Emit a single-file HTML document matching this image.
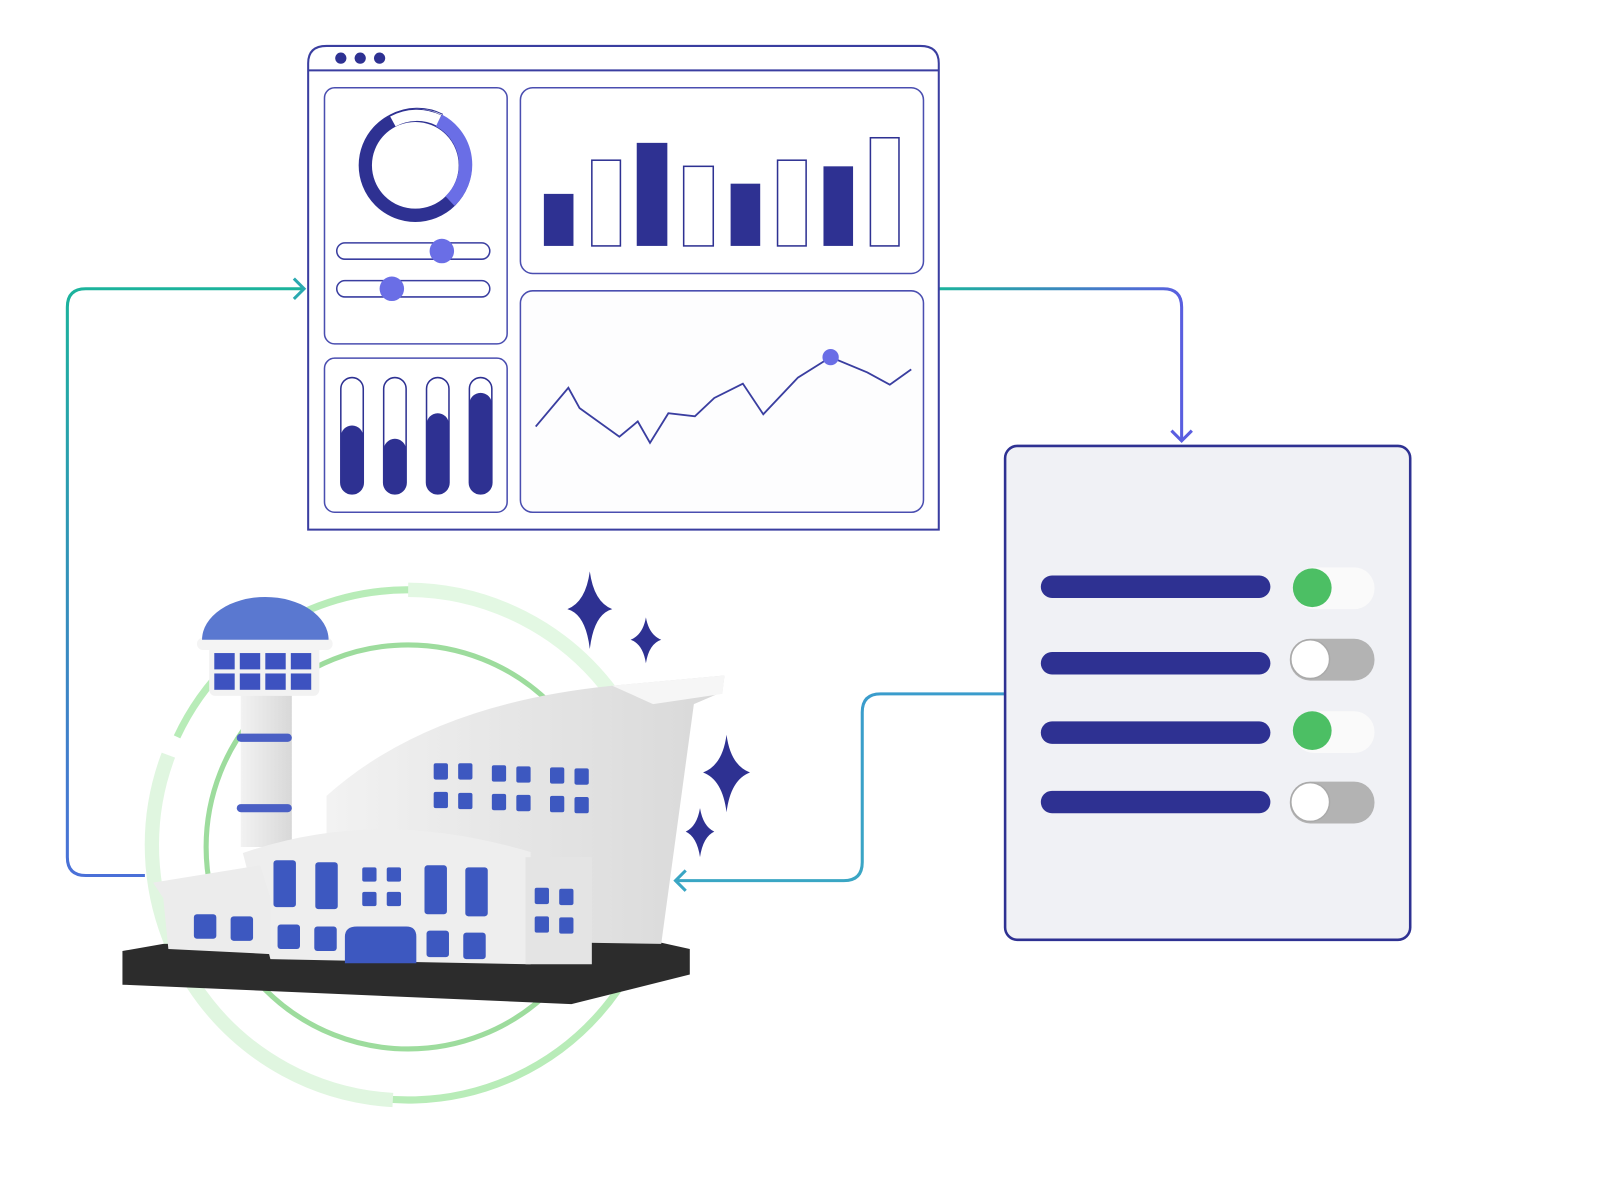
<!DOCTYPE html>
<html><head><meta charset="utf-8"><style>html,body{margin:0;padding:0;background:#fff}svg{display:block}</style></head><body>
<svg width="1600" height="1200" viewBox="0 0 1568 1176" xmlns="http://www.w3.org/2000/svg">
<defs>
<linearGradient id="gl" x1="0" y1="283" x2="0" y2="858" gradientUnits="userSpaceOnUse"><stop offset="0" stop-color="#1bb39c"/><stop offset="1" stop-color="#4a70d8"/></linearGradient>
<linearGradient id="gr" x1="920" y1="0" x2="1160" y2="0" gradientUnits="userSpaceOnUse"><stop offset="0" stop-color="#1bb39c"/><stop offset="1" stop-color="#5a5ee0"/></linearGradient>
<linearGradient id="gb" x1="0" y1="680" x2="0" y2="863" gradientUnits="userSpaceOnUse"><stop offset="0" stop-color="#3a9ccc"/><stop offset="1" stop-color="#3aa6c4"/></linearGradient>
<linearGradient id="wall" x1="0" y1="0" x2="1" y2="0"><stop offset="0" stop-color="#f2f2f2"/><stop offset="1" stop-color="#d8d8d8"/></linearGradient>
</defs>
<path d="M142 858 H84 Q66 858 66 840 V301 Q66 283 84 283 H298" fill="none" stroke="url(#gl)" stroke-width="3"/>
<path d="M288 273 L298 283 L288 293" fill="none" stroke="#2aa9b0" stroke-width="3"/>
<path d="M920 283 H1140 Q1158 283 1158 301 V432" fill="none" stroke="url(#gr)" stroke-width="3"/>
<path d="M1148 422 L1158 432 L1168 422" fill="none" stroke="#5a5ee0" stroke-width="3"/>
<path d="M985 680 H863 Q845 680 845 698 V845 Q845 863 827 863 H662" fill="none" stroke="url(#gb)" stroke-width="3"/>
<path d="M672 853 L662 863 L672 873" fill="none" stroke="#3aa6c4" stroke-width="3"/>
<path d="M302 519 V62 Q302 45 320 45 H902 Q920 45 920 62 V519 Z" fill="#fff" stroke="#3a3ea0" stroke-width="2"/>
<line x1="302" y1="69" x2="920" y2="69" stroke="#3a3ea0" stroke-width="2"/>
<circle cx="334" cy="57" r="5.5" fill="#2e3192"/><circle cx="353" cy="57" r="5.5" fill="#2e3192"/><circle cx="372" cy="57" r="5.5" fill="#2e3192"/>
<rect x="318" y="86" width="179" height="251" rx="10" fill="#fff" stroke="#4a4eb0" stroke-width="1.5"/>
<circle cx="407" cy="162" r="49" fill="none" stroke="#2e3192" stroke-width="13"/>
<path d="M430 118 A49 49 0 0 1 441 197" fill="none" stroke="#6a6ee6" stroke-width="13"/>
<path d="M385 119 A49 49 0 0 1 430 118" fill="none" stroke="#fff" stroke-width="11"/>
<path d="M382 113 A56 56 0 0 1 434 112" fill="none" stroke="#2e3192" stroke-width="1"/>
<rect x="330" y="238" width="150" height="16" rx="8" fill="#fff" stroke="#3a3ea0" stroke-width="1.5"/>
<circle cx="433" cy="246" r="12" fill="#6a6ee6"/>
<rect x="330" y="275" width="150" height="16" rx="8" fill="#fff" stroke="#3a3ea0" stroke-width="1.5"/>
<circle cx="384" cy="283" r="12" fill="#6a6ee6"/>
<rect x="318" y="351" width="179" height="151" rx="10" fill="#fff" stroke="#4a4eb0" stroke-width="1.5"/>
<g stroke="#2e3192" stroke-width="1.5">
<rect x="334" y="370" width="22" height="114" rx="11" fill="#fff"/><rect x="376" y="370" width="22" height="114" rx="11" fill="#fff"/>
<rect x="418" y="370" width="22" height="114" rx="11" fill="#fff"/><rect x="460" y="370" width="22" height="114" rx="11" fill="#fff"/>
</g>
<g fill="#2e3192">
<rect x="334" y="417" width="22" height="67" rx="11"/><rect x="376" y="430" width="22" height="54" rx="11"/>
<rect x="418" y="405" width="22" height="79" rx="11"/><rect x="460" y="385" width="22" height="99" rx="11"/>
</g>
<rect x="510" y="86" width="395" height="182" rx="12" fill="#fff" stroke="#4a4eb0" stroke-width="1.5"/>
<g fill="#2e3192">
<rect x="533" y="190" width="29" height="51"/><rect x="624" y="140" width="30" height="101"/>
<rect x="716" y="180" width="29" height="61"/><rect x="807" y="163" width="29" height="78"/>
</g>
<g fill="#fff" stroke="#2e3192" stroke-width="1.5">
<rect x="580" y="157" width="28" height="84"/><rect x="670" y="163" width="29" height="78"/>
<rect x="762" y="157" width="28" height="84"/><rect x="853" y="135" width="28" height="106"/>
</g>
<rect x="510" y="285" width="395" height="217" rx="12" fill="#fdfdfe" stroke="#4a4eb0" stroke-width="1.5"/>
<polyline points="525,418 557,380 568,400 607,428 625,413 637,434 655,405 681,408 700,390 728,376 748,406 782,370 814,350 850,365 872,377 893,362" fill="none" stroke="#3a3ea0" stroke-width="1.8"/>
<circle cx="814" cy="350" r="8" fill="#6a6ee6"/>
<rect x="985" y="437" width="397" height="484" rx="12" fill="#f0f1f5" stroke="#2e3192" stroke-width="2.5"/>
<g fill="#2e3192">
<rect x="1020" y="564" width="225" height="22" rx="11"/><rect x="1020" y="639" width="225" height="22" rx="11"/>
<rect x="1020" y="707" width="225" height="22" rx="11"/><rect x="1020" y="775" width="225" height="22" rx="11"/>
</g>
<rect x="1268" y="556" width="79" height="41" rx="20" fill="#fafafa"/><circle cx="1286" cy="576" r="19" fill="#4cbf64"/>
<rect x="1264" y="626" width="83" height="41" rx="20" fill="#b3b3b3"/><circle cx="1284" cy="646" r="19" fill="#fff" stroke="#aaa" stroke-width="1.5"/>
<rect x="1268" y="697" width="79" height="41" rx="20" fill="#fafafa"/><circle cx="1286" cy="716" r="19" fill="#4cbf64"/>
<rect x="1264" y="766" width="83" height="41" rx="20" fill="#b3b3b3"/><circle cx="1284" cy="786" r="19" fill="#fff" stroke="#aaa" stroke-width="1.5"/>
<g fill="none">
<circle cx="400" cy="830" r="198" stroke="#9ddc9d" stroke-width="5"/>
<circle cx="400" cy="828" r="250" stroke="#b8ecb8" stroke-width="7" stroke-dasharray="900 300" transform="rotate(-70 400 828)"/>
<path d="M400 578 A250 250 0 0 1 600 680" stroke="#e3f8e3" stroke-width="14"/>
<path d="M165 740 A250 250 0 0 0 385 1078" stroke="#e0f6e0" stroke-width="14"/>
</g>
<path d="M120 932 L160 925 L640 922 L676 930 L676 955 L560 984 L120 965 Z" fill="#2c2c2c"/>
<path d="M236 620 H286 V830 H236 Z" fill="url(#wall)"/>
<rect x="232" y="719" width="54" height="8" rx="4" fill="#4a5fc4"/><rect x="232" y="788" width="54" height="8" rx="4" fill="#4a5fc4"/>
<rect x="205" y="632" width="108" height="50" rx="6" fill="#f2f2f2"/>
<g fill="#3d52c0"><rect x="210" y="640" width="20" height="16"/><rect x="235" y="640" width="20" height="16"/><rect x="260" y="640" width="20" height="16"/><rect x="285" y="640" width="20" height="16"/><rect x="210" y="660" width="20" height="16"/><rect x="235" y="660" width="20" height="16"/><rect x="260" y="660" width="20" height="16"/><rect x="285" y="660" width="20" height="16"/></g>
<rect x="193" y="625" width="133" height="12" rx="6" fill="#f4f4f4"/>
<path d="M198 627 A62 42 0 0 1 322 627 Z" fill="#5a78d0"/>
<path d="M320 780 Q420 690 600 672 L710 662 L708 678 L680 690 L648 925 L320 920 Z" fill="url(#wall)"/>
<path d="M600 672 L710 662 L708 680 L640 690 Z" fill="#f6f6f6"/>
<g fill="#3d58c0">
<rect x="425" y="748" width="14" height="16" rx="2"/><rect x="449" y="748" width="14" height="16" rx="2"/><rect x="482" y="750" width="14" height="16" rx="2"/><rect x="506" y="751" width="14" height="16" rx="2"/><rect x="539" y="752" width="14" height="16" rx="2"/><rect x="563" y="753" width="14" height="16" rx="2"/>
<rect x="425" y="776" width="14" height="16" rx="2"/><rect x="449" y="777" width="14" height="16" rx="2"/><rect x="482" y="778" width="14" height="16" rx="2"/><rect x="506" y="779" width="14" height="16" rx="2"/><rect x="539" y="780" width="14" height="16" rx="2"/><rect x="563" y="781" width="14" height="16" rx="2"/>
</g>
<path d="M238 836 Q370 790 520 835 L520 945 L265 940 Z" fill="#eeeeee"/>
<path d="M150 865 L255 848 L265 880 L265 935 L165 930 L160 880 Z" fill="#ececec"/>
<path d="M515 840 H580 V945 H515 Z" fill="#e4e4e4"/>
<g fill="#3d58c0">
<rect x="268" y="843" width="22" height="46" rx="3"/><rect x="309" y="845" width="22" height="46" rx="3"/>
<rect x="355" y="850" width="14" height="14" rx="2"/><rect x="379" y="850" width="14" height="14" rx="2"/><rect x="355" y="874" width="14" height="14" rx="2"/><rect x="379" y="874" width="14" height="14" rx="2"/>
<rect x="416" y="848" width="22" height="48" rx="3"/><rect x="456" y="850" width="22" height="48" rx="3"/>
<rect x="524" y="870" width="14" height="16" rx="2"/><rect x="548" y="871" width="14" height="16" rx="2"/><rect x="524" y="898" width="14" height="16" rx="2"/><rect x="548" y="899" width="14" height="16" rx="2"/>
<rect x="190" y="896" width="22" height="24" rx="3"/><rect x="226" y="898" width="22" height="24" rx="3"/>
<rect x="272" y="906" width="22" height="24" rx="3"/><rect x="308" y="908" width="22" height="24" rx="3"/>
<path d="M338 944 V918 Q338 908 350 908 H398 Q408 908 408 918 V944 Z"/>
<rect x="418" y="912" width="22" height="26" rx="3"/><rect x="454" y="914" width="22" height="26" rx="3"/>
</g>
<g fill="#2e3192">
<path d="M578 560 Q582 590 600 597 Q582 602 578 636 Q574 602 556 597 Q574 590 578 560 Z"/>
<path d="M633 605 Q636 622 648 627 Q636 631 633 650 Q630 631 618 627 Q630 622 633 605 Z"/>
<path d="M712 720 Q716 750 735 757 Q716 764 712 796 Q708 764 689 757 Q708 750 712 720 Z"/>
<path d="M686 792 Q689 810 700 815 Q689 820 686 840 Q683 820 672 815 Q683 810 686 792 Z"/>
</g>
</svg>
</body></html>
